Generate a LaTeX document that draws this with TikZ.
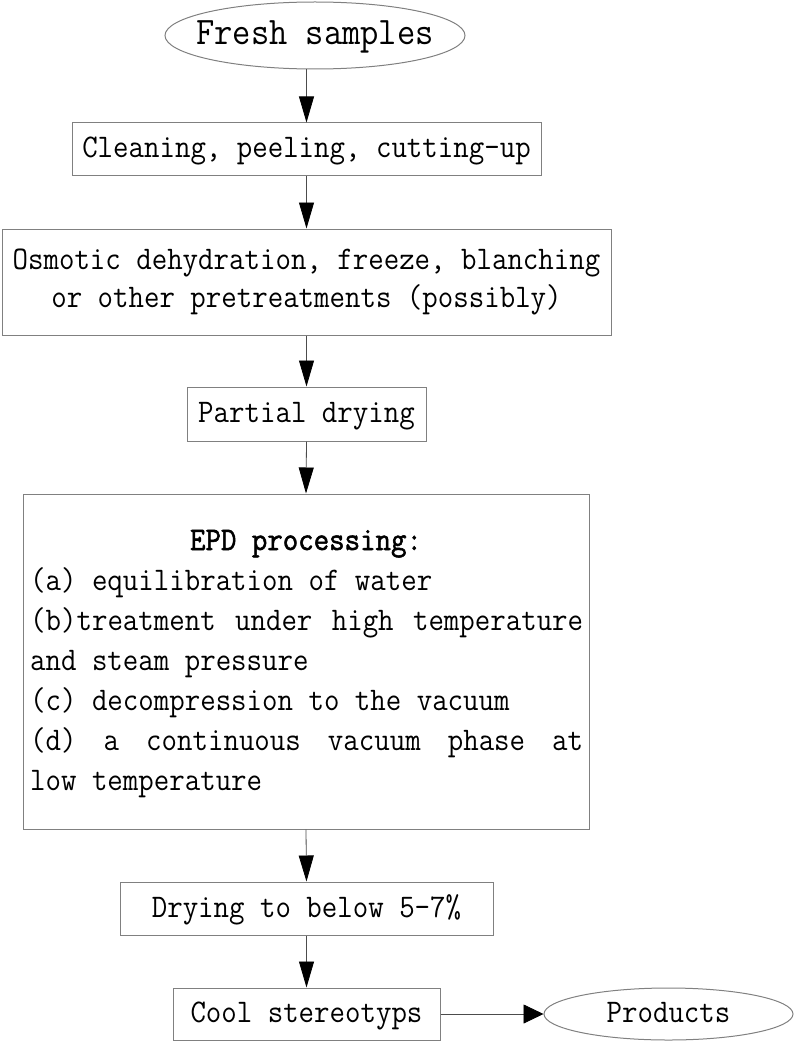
\documentclass[tikz,border=0pt]{standalone}
\usepackage{fontspec}
\usetikzlibrary{arrows.meta,shapes.geometric}
\newfontfamily\diagfont[FakeStretch=0.91]{Latin Modern Mono}
\newfontfamily\diagbold[FakeStretch=0.91,FakeBold=1.6]{Latin Modern Mono}
\newcommand\bodysize{\fontsize{33}{38}\selectfont}
\newcommand\bigsize{\fontsize{39}{44}\selectfont}
\begin{document}
\begin{tikzpicture}[x=1pt,y=-1pt,
  every node/.style={font=\diagfont\bodysize},
  frame/.style={draw=black!50, line width=1pt, inner sep=0pt},
  box/.style={frame, text height=21pt, text depth=4pt},
  oval/.style={ellipse, draw=black!50, line width=1pt, inner sep=0pt, text height=21pt, text depth=4pt},
  txt/.style={inner sep=0pt, anchor=base west},
  flow/.style={draw=black!70, line width=0.8pt, -{Triangle[length=26pt,width=15pt,color=black]}},
  flowh/.style={draw=black!70, line width=0.8pt, -{Triangle[length=20pt,width=19pt,color=black]}}]
\useasboundingbox (0,0) rectangle (794,1043);

\node[oval, minimum width=300pt, minimum height=67pt, font=\diagfont\bigsize, text height=23pt] (fresh) at (315,35.5) {\makebox[0pt]{Fresh samples}};
\node[box, minimum width=469pt, minimum height=53pt] (clean) at (306.5,149.5) {Cleaning, peeling, cutting-up};
\node[frame, minimum width=609pt, minimum height=106pt, align=center] (osmo) at (306.5,282) {Osmotic dehydration, freeze, blanching\\or other pretreatments (possibly)};
\node[box, minimum width=239pt, minimum height=54pt] (partial) at (306.5,414) {Partial drying};
\node[frame, minimum width=566pt, minimum height=335pt] (epd) at (306,661.5) {};
\node[inner sep=0pt, anchor=base, font=\diagbold\bodysize] (epdt) at (306,550) {EPD processing:};
\node[txt] (epda) at (30,590) {(a) equilibration of water};
\node[txt] (epdb) at (30,630) {\makebox[553pt][l]{(b)treatment\hfill\ under\hfill\ high\hfill\ temperature}};
\node[txt] (epdb2) at (30,670) {and steam pressure};
\node[txt] (epdc) at (30,710) {(c) decompression to the vacuum};
\node[txt] (epdd) at (30,750) {\makebox[553pt][l]{(d)\hfill\ a\hfill\ continuous\hfill\ vacuum\hfill\ phase\hfill\ at}};
\node[txt] (epde) at (30,790) {low temperature};
\node[box, minimum width=373pt, minimum height=53pt] (dry) at (306.5,908.5) {Drying to below 5-7\%};
\node[box, minimum width=267pt, minimum height=52pt] (cool) at (306.5,1014) {Cool stereotyps};
\node[oval, minimum width=249pt, minimum height=52pt] (prod) at (668.5,1014) {\makebox[0pt]{Products}};

\draw[flow] (clean.north |- fresh.south) -- (clean.north);
\draw[flow] (clean.south) -- (osmo.north);
\draw[flow] (osmo.south) -- (partial.north);
\draw[flow] (partial.south) -- (epd.north);
\draw[flow] (epd.south) -- (dry.north);
\draw[flow] (dry.south) -- (cool.north);
\draw[flowh] (cool.east) -- (prod.west);
\end{tikzpicture}
\end{document}
